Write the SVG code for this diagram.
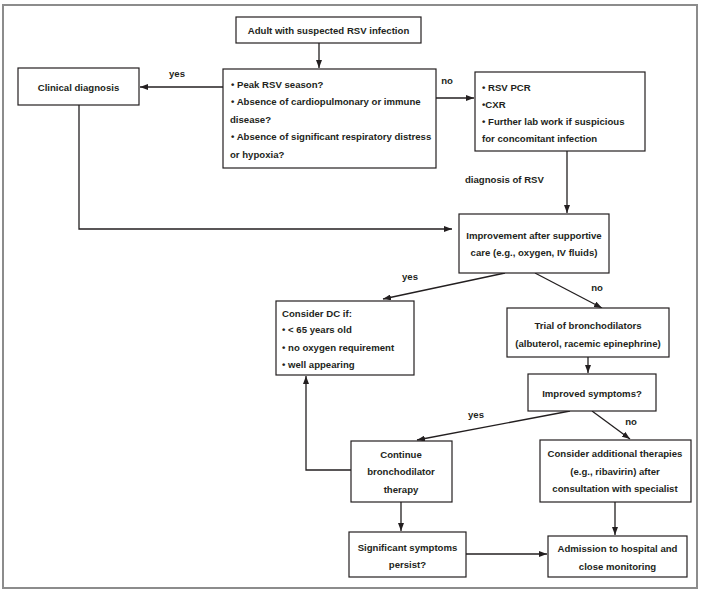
<svg xmlns="http://www.w3.org/2000/svg" width="702" height="591" viewBox="0 0 702 591">
<defs>
<marker id="ah" markerWidth="8" markerHeight="6" refX="8" refY="3" orient="auto" markerUnits="userSpaceOnUse"><path d="M0,0 L8,3 L0,6 z" fill="#231f20"/></marker>
<style>
.box{fill:#fff;stroke:#231f20;stroke-width:1.2}
.t{font-family:"Liberation Sans",Arial,sans-serif;font-weight:bold;font-size:9.6px;fill:#231f20}
.m{text-anchor:middle}
.c{fill:none;stroke:#231f20;stroke-width:1.3}
</style>
</defs>
<rect width="702" height="591" fill="#fff"/>
<rect x="3" y="5" width="694" height="583" fill="none" stroke="#8c8c8c" stroke-width="2"/>
<g id="connectors">
<path class="c" d="M319,43 V68" marker-end="url(#ah)"/>
<path class="c" d="M223,87 H140" marker-end="url(#ah)"/>
<path class="c" d="M436,98 H474" marker-end="url(#ah)"/>
<path class="c" d="M79,105 V229 H452" marker-end="url(#ah)"/>
<path class="c" d="M567,151 V213" marker-end="url(#ah)"/>
<path class="c" d="M505,273 L383,299" marker-end="url(#ah)"/>
<path class="c" d="M535,273 L602,308" marker-end="url(#ah)"/>
<path class="c" d="M588,357 V373" marker-end="url(#ah)"/>
<path class="c" d="M570,411 L417,440" marker-end="url(#ah)"/>
<path class="c" d="M592,411 L630,439" marker-end="url(#ah)"/>
<path class="c" d="M351,470 H306 V376" marker-end="url(#ah)"/>
<path class="c" d="M401,502 V531" marker-end="url(#ah)"/>
<path class="c" d="M466,554 H547" marker-end="url(#ah)"/>
<path class="c" d="M615,502 V535" marker-end="url(#ah)"/>
<text class="t m" x="177" y="77">yes</text>
<text class="t m" x="447" y="84">no</text>
<text class="t" x="465" y="183">diagnosis of RSV</text>
<text class="t m" x="410" y="280">yes</text>
<text class="t m" x="597" y="291">no</text>
<text class="t m" x="476" y="418">yes</text>
<text class="t m" x="631" y="425">no</text>
</g>
<g id="start">
<rect class="box" x="236" y="17" width="185" height="26"/>
<text class="t m" x="328.5" y="33.5">Adult with suspected RSV infection</text>
</g>
<g id="questions">
<rect class="box" x="223" y="69" width="213" height="99"/>
<text class="t" x="231" y="87.5">• Peak RSV season?</text>
<text class="t" x="231" y="105">• Absence of cardiopulmonary or immune</text>
<text class="t" x="230" y="122.5">disease?</text>
<text class="t" x="231" y="140">• Absence of significant respiratory distress</text>
<text class="t" x="230" y="157.5">or hypoxia?</text>
</g>
<g id="clinical">
<rect class="box" x="18" y="68" width="121" height="37"/>
<text class="t m" x="78.5" y="91">Clinical diagnosis</text>
</g>
<g id="tests">
<rect class="box" x="475" y="72" width="170" height="79"/>
<text class="t" x="482" y="90.5">• RSV PCR</text>
<text class="t" x="482" y="107.5">•CXR</text>
<text class="t" x="482" y="124.5">• Further lab work if suspicious</text>
<text class="t" x="482" y="141.5">for concomitant infection</text>
</g>
<g id="improvement">
<rect class="box" x="459" y="214" width="150" height="59"/>
<text class="t m" x="534" y="238.5">Improvement after supportive</text>
<text class="t m" x="534" y="256">care (e.g., oxygen, IV fluids)</text>
</g>
<g id="dc">
<rect class="box" x="276" y="301" width="138" height="74"/>
<text class="t" x="282" y="316.5">Consider DC if:</text>
<text class="t" x="282" y="333">• &lt; 65 years old</text>
<text class="t" x="282" y="350.5">• no oxygen requirement</text>
<text class="t" x="282" y="368">• well appearing</text>
</g>
<g id="trial">
<rect class="box" x="507" y="308" width="162" height="49"/>
<text class="t m" x="588" y="328.5">Trial of bronchodilators</text>
<text class="t m" x="588" y="346.5">(albuterol, racemic epinephrine)</text>
</g>
<g id="improved">
<rect class="box" x="528" y="374" width="128" height="37"/>
<text class="t m" x="592" y="396.5">Improved symptoms?</text>
</g>
<g id="continue">
<rect class="box" x="351" y="441" width="101" height="61"/>
<text class="t m" x="401" y="457.5">Continue</text>
<text class="t m" x="401" y="475">bronchodilator</text>
<text class="t m" x="401" y="492.5">therapy</text>
</g>
<g id="additional">
<rect class="box" x="540" y="440" width="151" height="62"/>
<text class="t m" x="615" y="456.5">Consider additional therapies</text>
<text class="t m" x="615" y="474.5">(e.g., ribavirin) after</text>
<text class="t m" x="615" y="492">consultation with specialist</text>
</g>
<g id="persist">
<rect class="box" x="349" y="532" width="117" height="45"/>
<text class="t m" x="407.5" y="550.5">Significant symptoms</text>
<text class="t m" x="407.5" y="567.5">persist?</text>
</g>
<g id="admission">
<rect class="box" x="548" y="536" width="139" height="41"/>
<text class="t m" x="617.5" y="551.5">Admission to hospital and</text>
<text class="t m" x="617.5" y="569.5">close monitoring</text>
</g>
</svg>
